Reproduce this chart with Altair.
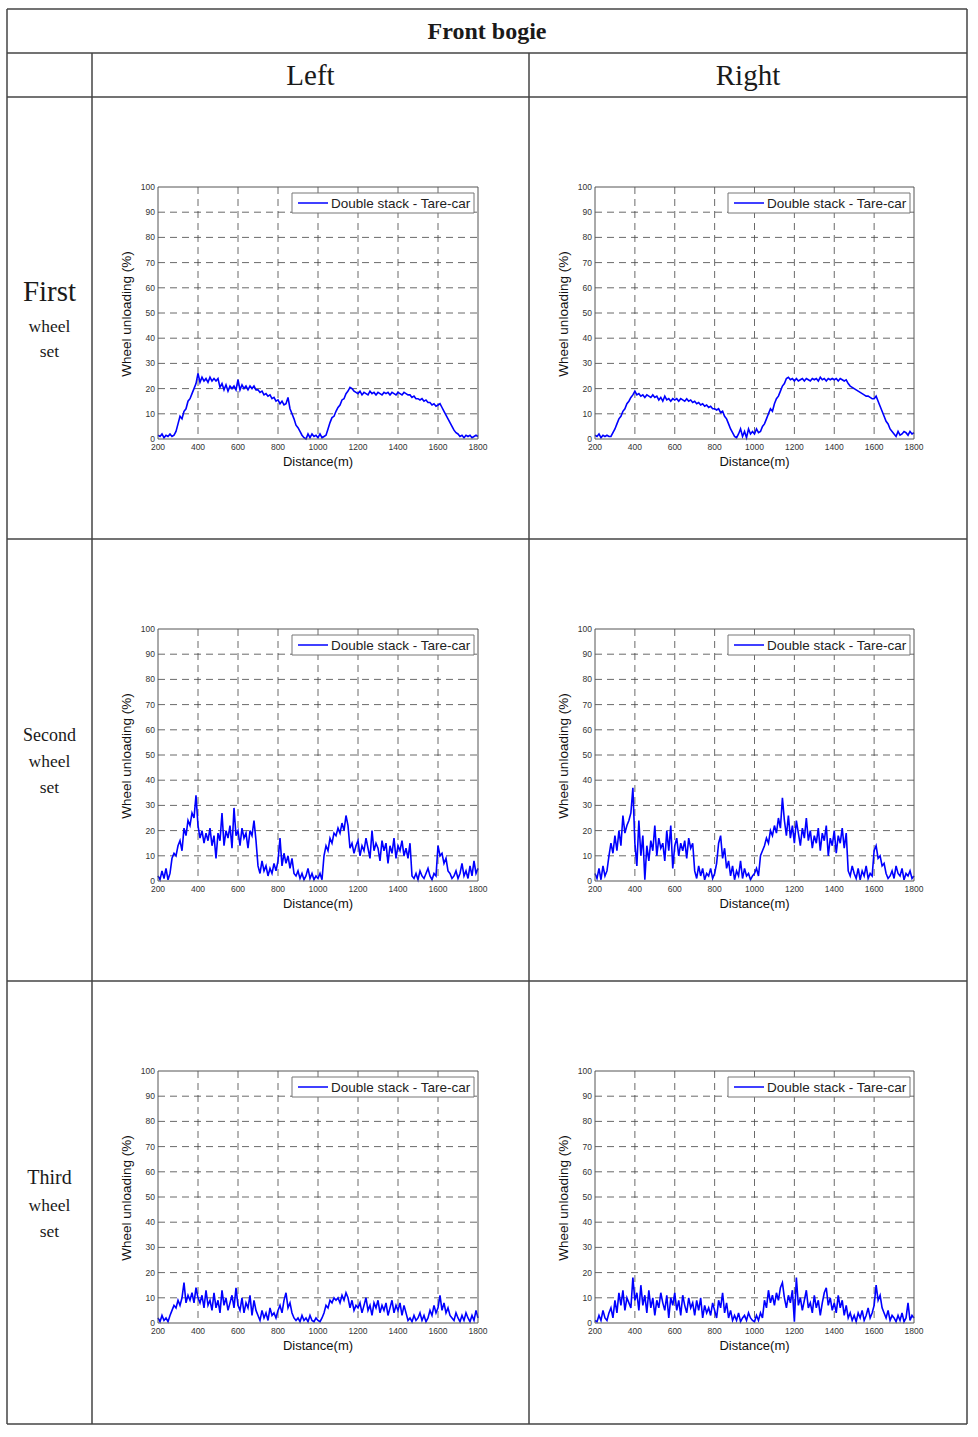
import altair as alt
import pandas as pd

W, H = 978, 1437

# ---------------- data (10 m steps) ----------------
distance = list(range(200, 1801, 10))

first_left = [
    1.5, 1, 2, 0.5, 1.5, 1, 2, 1, 1.5, 3,
    6, 9, 8, 11, 12, 15, 16, 18, 20, 22,
    26, 22.5, 24.5, 23, 24, 22.5, 24.5, 23, 24, 23,
    24, 20.5, 22, 19.5, 21.5, 19, 21, 20, 21, 19.5,
    23.5, 19.5, 21.5, 20, 21, 19.5, 21, 20, 21, 19.5,
    19.5, 18.5, 19, 17.5, 18, 17, 17.5, 16, 16.5, 15,
    15.5, 14, 15, 13.5, 14, 16.5, 12, 10, 8, 5.5,
    4.5, 3, 1.5, 0.5, 0, 2, 0.5, 2, 1, 1.5,
    0.5, 2, 0.5, 1, 1.5, 4, 6.5, 8.5, 9, 11,
    12.5, 13.5, 15.5, 16, 18, 19, 20.5, 20, 19, 18.5,
    18, 19, 17.5, 18.5, 18, 17.5, 19, 18, 18.5, 17.5,
    18.5, 18, 17.5, 18.5, 18, 18.5, 17.5, 18.5, 18, 17.5,
    18.5, 18, 17.5, 18.5, 18, 17.5, 17.5, 16.5, 17, 16,
    16, 15.5, 16, 15, 15.5, 14.5, 14.5, 13.5, 14, 13,
    13.5, 14, 12.5, 11, 9.5, 8, 6.5, 5, 3.5, 2.5,
    2, 1, 1.5, 0.5, 1.5, 1, 1.5, 0.5, 1, 1.5,
    1,
]
first_right = [
    1.5, 1, 2, 0.5, 1.5, 1, 1.5, 1, 1, 2.5,
    4, 6, 8, 9, 11, 12, 14, 15, 16.5, 17.5,
    19, 17.5, 18, 17, 17.5, 16.5, 17.5, 17, 16.5, 17.5,
    16.5, 17, 15.5, 16.5, 15, 17, 15.5, 16, 15, 16,
    15.5, 16, 15, 16, 15.5, 15, 16, 15, 15.5, 14.5,
    15, 14, 14.5, 13.5, 14, 13, 13.5, 12.5, 13, 12,
    12, 11.5, 12, 10.5, 11, 9, 8, 6, 4, 2.5,
    1, 0.5, 2, 4, 1, 3, 0.5, 4, 2, 3,
    2, 4, 2.5, 3, 5, 6, 8, 10, 12, 11,
    14, 16, 17, 19, 21, 22, 24, 24.5, 23.5, 24,
    23, 24, 23, 23.5, 24, 23, 24, 23.5, 23, 24,
    23.5, 24, 23, 24.5, 23.5, 24, 23, 24, 23.5, 24,
    23.5, 24, 23, 24, 23.5, 23, 23.5, 22, 21, 20.5,
    20, 19.5, 19, 18.5, 18, 17.5, 17, 17, 16.5, 16,
    16, 17, 15, 13, 11, 9, 7, 6, 4, 3,
    2, 1, 3, 1.5, 2, 3, 2.5, 1.5, 3, 2,
    2.5,
]
second_left = [
    2, 0.5, 4, 1, 5, 0.5, 3, 9, 11, 10,
    14, 16, 12, 21, 18, 24, 22, 27, 25, 34,
    22, 17, 20, 15, 19, 16, 21, 14, 18, 9,
    19, 16, 27, 14, 20, 17, 22, 13, 29, 18,
    20, 14, 21, 17, 19, 13, 20, 18, 24, 16,
    6, 3, 8, 4, 6, 2, 5, 3, 7, 4,
    8, 17, 6, 11, 7, 10, 5, 9, 3, 2,
    4, 1, 3, 0.5, 2, 5, 1, 3, 0.5, 2,
    1, 3, 0.5, 10, 14, 12, 17, 15, 19, 18,
    21, 19, 23, 20, 26, 22, 13, 15, 11, 14,
    16, 10, 14, 12, 17, 13, 9, 20, 12, 15,
    13, 8, 16, 12, 15, 7, 14, 11, 17, 9,
    14, 12, 16, 10, 13, 9, 15, 2, 1, 3,
    0.5, 4, 2, 1, 3, 5, 2, 0.5, 3, 2,
    14, 10, 11, 7, 9, 4, 3, 1, 2, 4,
    1, 3, 7, 2, 4, 1, 6, 2, 8, 3,
    5,
]
second_right = [
    3, 1, 5, 0.5, 6, 2, 4, 10, 15, 11,
    18, 12, 20, 14, 26, 19, 22, 24, 27, 37,
    15, 6, 24, 10, 18, 0.5, 14, 8, 16, 12,
    22, 10, 17, 13, 15, 8, 20, 12, 22, 5,
    14, 17, 10, 15, 12, 16, 9, 17, 13, 15,
    4, 1, 6, 2, 5, 0.5, 3, 2, 5, 1,
    3, 7, 15, 18, 9, 13, 5, 8, 2, 6,
    0.5, 4, 2, 8, 1, 5, 2, 3, 0.5, 2,
    3, 5, 2, 10, 12, 14, 17, 15, 20, 18,
    22, 19, 25, 21, 33, 24, 18, 26, 17, 22,
    15, 24, 19, 14, 21, 17, 25, 16, 20, 13,
    18, 15, 21, 12, 19, 16, 22, 10, 17, 14,
    20, 11, 18, 15, 21, 13, 19, 4, 2, 6,
    3, 1, 5, 0.5, 4, 2, 6, 1, 3, 2,
    12, 14, 9, 10, 6, 7, 3, 1, 2, 4,
    1, 6, 3, 2, 5, 0.5, 3, 2, 4, 1,
    2,
]
third_left = [
    2, 0.5, 3, 1, 2, 0.5, 3, 5, 7, 6,
    9, 7, 10, 16, 8, 11, 9, 12, 8, 14,
    10, 8, 11, 6, 13, 7, 9, 5, 12, 6,
    9, 4, 13, 7, 10, 5, 8, 11, 6, 14,
    7, 5, 10, 4, 8, 6, 11, 3, 9, 5,
    3, 1, 5, 2, 4, 1, 6, 3, 4, 2,
    5, 7, 4, 9, 12, 6, 8, 4, 2, 1,
    2, 0.5, 3, 1, 2, 0.5, 3, 1, 0.5, 2,
    1, 0.5, 2, 4, 7, 6, 9, 8, 10, 9,
    10, 8, 11, 9, 12, 10, 6, 9, 5, 7,
    6, 8, 4, 7, 10, 5, 7, 3, 8, 6,
    9, 4, 7, 5, 8, 3, 6, 9, 4, 7,
    5, 8, 3, 7, 4, 1, 2, 0.5, 3, 1,
    2, 4, 1, 3, 0.5, 2, 5, 3, 7, 4,
    6, 11, 5, 8, 4, 6, 3, 2, 1, 4,
    2, 0.5, 3, 1, 4, 2, 0.5, 3, 1, 5,
    2,
]
third_right = [
    1, 0.5, 3, 1, 5, 2, 1, 4, 6, 2,
    9, 4, 12, 7, 13, 5, 10, 8, 6, 18,
    9, 12, 5, 15, 7, 11, 4, 13, 6, 10,
    3, 9, 6, 12, 8, 5, 11, 2, 10, 7,
    12, 5, 9, 3, 11, 7, 4, 10, 6, 8,
    3, 9, 5, 10, 2, 7, 4, 6, 3, 8,
    5, 2, 9, 6, 12, 4, 8, 2, 5, 1,
    3, 1, 4, 0.5, 2, 3, 1, 4, 2, 1,
    0.5, 3, 1, 4, 2, 9, 6, 13, 8, 11,
    7, 12, 9, 14, 16, 10, 6, 11, 8, 13,
    0.5, 18, 7, 10, 5, 9, 13, 6, 8, 4,
    11, 6, 9, 3, 8, 12, 14, 7, 10, 5,
    8, 4, 11, 6, 9, 3, 7, 2, 4, 1,
    3, 0.5, 4, 2, 5, 1, 3, 6, 2, 4,
    7, 15, 9, 11, 6, 4, 2, 5, 1, 3,
    2, 0.5, 3, 1, 4, 0.5, 2, 8, 1, 3,
    2,
]

x_ticks = [200, 400, 600, 800, 1000, 1200, 1400, 1600, 1800]
y_ticks = [0, 10, 20, 30, 40, 50, 60, 70, 80, 90, 100]

header_title = "Front bogie"
column_labels = ["Left", "Right"]
row_labels = [["First", "wheel", "set"], ["Second", "wheel", "set"], ["Third", "wheel", "set"]]
legend_label = "Double stack - Tare-car"
x_title = "Distance(m)"
y_title = "Wheel unloading (%)"

series_grid = [[first_left, first_right], [second_left, second_right], [third_left, third_right]]

# ---------------- layout (pixels) ----------------
col_px = [(158, 478), (595, 914)]
row_py = [(187, 439), (629, 881), (1071, 1323)]

SANS = "Liberation Sans"
SERIF = "Liberation Serif"
one = pd.DataFrame({"k": [0]})


def panel(values, px0, px1, py0, py1):
    xs = alt.Scale(domain=[x_ticks[0], x_ticks[-1]], range=[px0, px1], nice=False, zero=False)
    ys = alt.Scale(domain=[y_ticks[0], y_ticks[-1]], range=[py1, py0], nice=False, zero=False)

    box_df = pd.DataFrame({"x0": [x_ticks[0]], "x1": [x_ticks[-1]], "y0": [y_ticks[0]], "y1": [y_ticks[-1]]})
    vgrid_df = pd.DataFrame({"g": x_ticks[1:-1], "lo": y_ticks[0], "hi": y_ticks[-1]})
    hgrid_df = pd.DataFrame({"g": y_ticks[1:-1], "lo": x_ticks[0], "hi": x_ticks[-1]})
    xlab_df = pd.DataFrame({"g": x_ticks, "lab": [str(v) for v in x_ticks], "at": y_ticks[0]})
    ylab_df = pd.DataFrame({"g": y_ticks, "lab": [str(v) for v in y_ticks], "at": x_ticks[0]})
    line_df = pd.DataFrame({"d": distance, "v": values})

    bg = alt.Chart(box_df).mark_rect(fill="white").encode(
        x=alt.X("x0:Q", scale=xs, axis=None), x2="x1:Q",
        y=alt.Y("y0:Q", scale=ys, axis=None), y2="y1:Q")
    vgrid = alt.Chart(vgrid_df).mark_rule(color="#444", strokeWidth=0.8, strokeDash=[7, 5]).encode(
        x=alt.X("g:Q", scale=xs, axis=None),
        y=alt.Y("hi:Q", scale=ys, axis=None), y2="lo:Q")
    hgrid = alt.Chart(hgrid_df).mark_rule(color="#444", strokeWidth=0.8, strokeDash=[7, 5]).encode(
        y=alt.Y("g:Q", scale=ys, axis=None),
        x=alt.X("lo:Q", scale=xs, axis=None), x2="hi:Q")
    xlab = alt.Chart(xlab_df).mark_text(font=SANS, fontSize=8.5, color="#333", baseline="middle",
                                         align="center", dy=8).encode(
        x=alt.X("g:Q", scale=xs, axis=None), y=alt.Y("at:Q", scale=ys, axis=None), text="lab:N")
    ylab = alt.Chart(ylab_df).mark_text(font=SANS, fontSize=8.5, color="#333", baseline="middle",
                                         align="right", dx=-3).encode(
        y=alt.Y("g:Q", scale=ys, axis=None), x=alt.X("at:Q", scale=xs, axis=None), text="lab:N")
    line = alt.Chart(line_df).mark_line(color="#0000ff", strokeWidth=1.6).encode(
        x=alt.X("d:Q", scale=xs, axis=None),
        y=alt.Y("v:Q", scale=ys, axis=None))
    frame = alt.Chart(box_df).mark_rect(fill=None, stroke="#555", strokeWidth=1).encode(
        x=alt.X("x0:Q", scale=xs, axis=None), x2="x1:Q",
        y=alt.Y("y0:Q", scale=ys, axis=None), y2="y1:Q")
    xt = alt.Chart(one).mark_text(font=SANS, fontSize=13, color="#111", baseline="middle",
                                  align="center").encode(
        x=alt.value((px0 + px1) / 2), y=alt.value(py1 + 23), text=alt.value(x_title))
    yt = alt.Chart(one).mark_text(font=SANS, fontSize=13.5, color="#111", baseline="middle",
                                  align="center", angle=270).encode(
        x=alt.value(px0 - 31), y=alt.value((py0 + py1) / 2 + 1), text=alt.value(y_title))
    leg_box = alt.Chart(one).mark_rect(fill="white", stroke="#777", strokeWidth=1).encode(
        x=alt.value(px1 - 186), x2=alt.value(px1 - 4), y=alt.value(py0 + 6), y2=alt.value(py0 + 26))
    leg_line = alt.Chart(one).mark_rule(color="#0000ff", strokeWidth=1.5).encode(
        x=alt.value(px1 - 180), x2=alt.value(px1 - 150), y=alt.value(py0 + 16))
    leg_text = alt.Chart(one).mark_text(align="left", baseline="middle", font=SANS,
                                        fontSize=13.5, color="#222").encode(
        x=alt.value(px1 - 147), y=alt.value(py0 + 16.5), text=alt.value(legend_label))
    return alt.layer(bg, vgrid, hgrid, line, frame, xlab, ylab, xt, yt, leg_box, leg_line, leg_text)


panels = []
for r, (py0, py1) in enumerate(row_py):
    for c, (px0, px1) in enumerate(col_px):
        panels.append(panel(series_grid[r][c], px0, px1, py0, py1))

# ---------------- table frame & labels ----------------
LINE = "#444"
T_LEFT, T_RIGHT, T_TOP, T_BOTTOM = 7, 967, 9, 1424
C1, C2 = 92, 529
row_lines = [53, 97, 539, 981]


def hrule(y, x0, x1):
    return alt.Chart(one).mark_rule(color=LINE, strokeWidth=1.5).encode(
        x=alt.value(x0), x2=alt.value(x1), y=alt.value(y))


def vrule(x, y0, y1):
    return alt.Chart(one).mark_rule(color=LINE, strokeWidth=1.5).encode(
        x=alt.value(x), y=alt.value(y0), y2=alt.value(y1))


def label(text, x, y, size, weight="normal"):
    return alt.Chart(one).mark_text(align="center", baseline="middle", font=SERIF,
                                    fontSize=size, fontWeight=weight, color="#1a1a1a").encode(
        x=alt.value(x), y=alt.value(y), text=alt.value(text))


table = [hrule(T_TOP, T_LEFT, T_RIGHT), hrule(T_BOTTOM, T_LEFT, T_RIGHT)]
table += [hrule(y, T_LEFT, T_RIGHT) for y in row_lines]
table += [vrule(T_LEFT, T_TOP, T_BOTTOM), vrule(T_RIGHT, T_TOP, T_BOTTOM),
          vrule(C1, row_lines[0], T_BOTTOM), vrule(C2, row_lines[0], T_BOTTOM)]

table.append(label(header_title, (T_LEFT + T_RIGHT) / 2, 32, 24, "bold"))
table.append(label(column_labels[0], (C1 + C2) / 2, 76, 29))
table.append(label(column_labels[1], (C2 + T_RIGHT) / 2, 76, 29))

row_label_y = [[292, 327, 352], [736, 762, 788], [1178, 1206, 1232]]
row_label_size = [[29, 17.5, 17.5], [18, 17.5, 17.5], [20, 17.5, 17.5]]
for r in range(3):
    for k in range(3):
        table.append(label(row_labels[r][k], (T_LEFT + C1) / 2, row_label_y[r][k], row_label_size[r][k]))

chart = alt.layer(*panels, *table).resolve_scale(
    x="independent", y="independent"
).properties(
    width=W, height=H, padding=0, autosize=alt.AutoSizeParams(type="none"),
    background="white"
).configure_view(strokeWidth=0)

chart.save("out.html", embed_options={"renderer": "svg", "actions": False})
